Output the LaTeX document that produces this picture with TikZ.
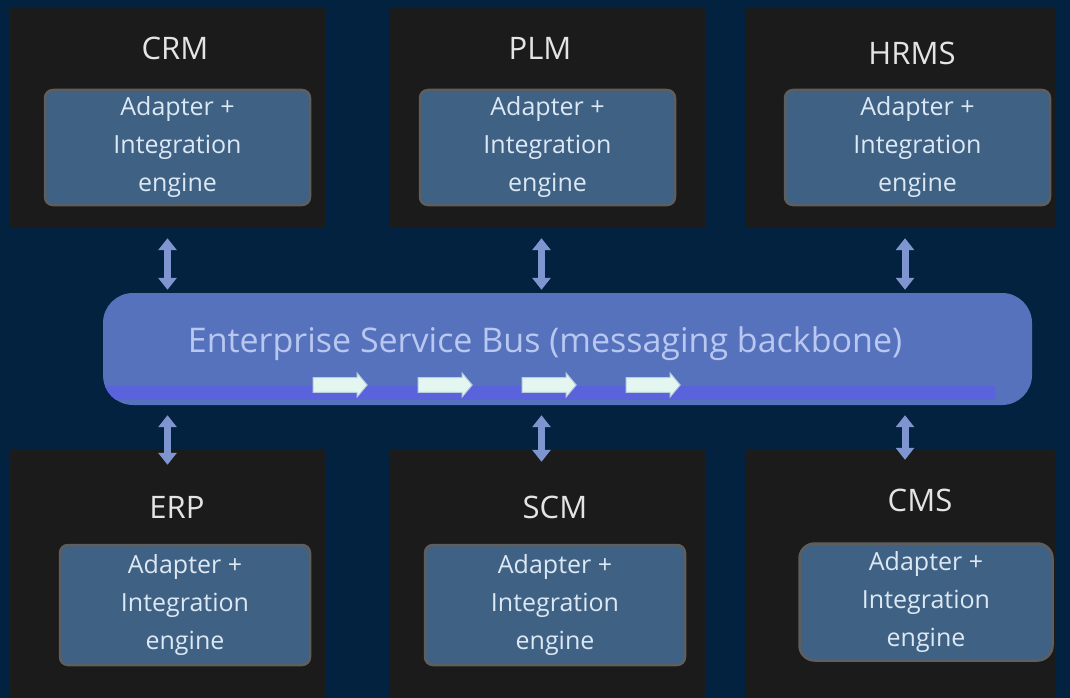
\documentclass[tikz,border=0pt]{standalone}
\usepackage{fontspec}
\setmainfont{Open Sans}
\usetikzlibrary{shapes.arrows,arrows.meta,calc}
\definecolor{bg}{HTML}{03223F}
\definecolor{sysc}{HTML}{1B1B1B}
\definecolor{adp}{HTML}{3F6183}
\definecolor{adpborder}{HTML}{5E5E5E}
\definecolor{esbc}{HTML}{5672BC}
\definecolor{esbtext}{HTML}{B8C8F0}
\definecolor{band}{HTML}{5A62DC}
\definecolor{flow}{HTML}{E4F6F0}
\definecolor{linkc}{HTML}{7F95D0}
\definecolor{adptext}{HTML}{DDE8F5}
\definecolor{labeltext}{HTML}{E4E4E4}
\begin{document}
\begin{tikzpicture}[x=1pt,y=-1pt,
  sysbox/.style={fill=sysc, inner sep=0pt, minimum width=315pt},
  syslabel/.style={text=labeltext, inner sep=0pt, font={\fontsize{31}{36}\selectfont}},
  adapter/.style={fill=adp, draw=adpborder, line width=2.5pt, rounded corners=8pt,
    inner sep=0pt, minimum width=265pt, minimum height=115pt, text=adptext,
    align=center, font={\fontsize{25}{38}\selectfont}},
  flowarrow/.style={single arrow, fill=flow, draw=flow!70!esbc, line width=1pt,
    minimum height=54pt, minimum width=24pt, single arrow head extend=4pt,
    inner xsep=0pt, inner ysep=6pt, single arrow tip angle=100},
  linkarrow/.style={draw=linkc, line width=7pt,
    {Triangle[width=18pt,length=12pt]}-{Triangle[width=18pt,length=12pt]}}
]
\useasboundingbox (0,0) rectangle (1070,698);
\fill[bg] (0,0) rectangle (1070,698);

% system boxes
\node[sysbox, minimum height=220pt] (crm) at (167.5,118) {};
\node[sysbox, minimum height=220pt] (plm) at (547.5,118) {};
\node[sysbox, minimum height=220pt, minimum width=310pt] (hrms) at (900,118) {};
\node[sysbox, minimum height=248pt] (erp) at (167.5,574) {};
\node[sysbox, minimum height=248pt] (scm) at (547.5,574) {};
\node[sysbox, minimum height=248pt, minimum width=310pt] (cms) at (900,574) {};

% labels
\node[syslabel] (crml) at (175,48) {CRM};
\node[syslabel] (plml) at (540,48) {PLM};
\node[syslabel] (hrmsl) at (912,53) {HRMS};
\node[syslabel] (erpl) at (177,507) {ERP};
\node[syslabel] (scml) at (555,507) {SCM};
\node[syslabel] (cmsl) at (920,500) {CMS};

% adapters
\node[adapter] (crma) at (177.5,147.5) {Adapter +\\Integration\\engine};
\node[adapter, minimum width=255pt] (plma) at (547.5,147.5) {Adapter +\\Integration\\engine};
\node[adapter] (hrmsa) at (917.5,147.5) {Adapter +\\Integration\\engine};
\node[adapter, minimum width=250pt, minimum height=120pt] (erpa) at (185,605) {Adapter +\\Integration\\engine};
\node[adapter, minimum width=260pt, minimum height=120pt] (scma) at (555,605) {Adapter +\\Integration\\engine};
\node[adapter, minimum width=253pt, minimum height=117pt, rounded corners=15pt] (cmsa) at (926,602) {Adapter +\\Integration\\engine};

% ESB
\node[fill=esbc, rounded corners=30pt, minimum width=929pt, minimum height=112pt, inner sep=0pt] (esb) at (567.5,349) {};
\begin{scope}
  \clip[rounded corners=30pt] (esb.north west) rectangle (esb.south east);
  \fill[band] (103,386) rectangle (995,400);
\end{scope}
\node[text=esbtext, inner sep=0pt, font={\fontsize{34}{40}\selectfont}] (esbt) at (545,344) {Enterprise Service Bus (messaging backbone)};

% flow arrows
\node[flowarrow] (f1) at (337,385) {};
\node[flowarrow] (f2) at (442,385) {};
\node[flowarrow] (f3) at (546,385) {};
\node[flowarrow] (f4) at (650,385) {};

% links
\draw[linkarrow, shorten <=10pt, shorten >=3pt] (crm.south) -- (esb.north -| crm.south);
\draw[linkarrow, shorten <=10pt, shorten >=3pt] ($(plm.south)+(-6,0)$) -- ($(esb.north -| plm.south)+(-6,0)$);
\draw[linkarrow, shorten <=10pt, shorten >=3pt] ($(hrms.south)+(5,0)$) -- ($(esb.north -| hrms.south)+(5,0)$);
\draw[linkarrow, shorten <=10pt, shorten >=-15pt] (esb.south -| erp.north) -- (erp.north);
\draw[linkarrow, shorten <=10pt, shorten >=-12pt] ($(esb.south -| scm.north)+(-6,0)$) -- ($(scm.north)+(-6,0)$);
\draw[linkarrow, shorten <=10pt, shorten >=-10pt] ($(esb.south -| cms.north)+(5,0)$) -- ($(cms.north)+(5,0)$);
\end{tikzpicture}
\end{document}
